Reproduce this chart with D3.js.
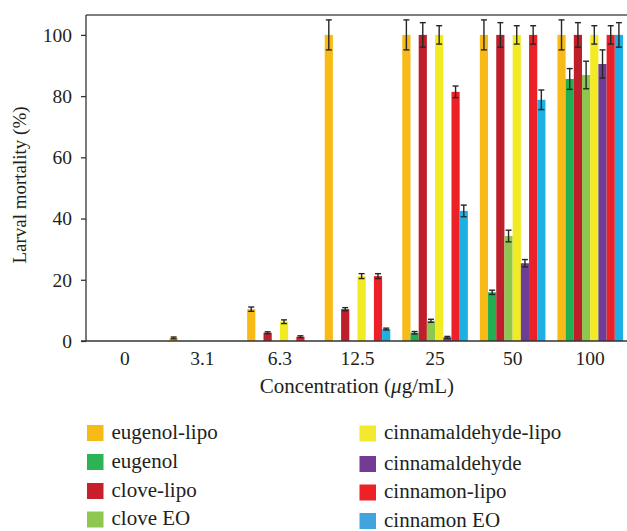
<!DOCTYPE html>
<html>
<head>
<meta charset="utf-8">
<script src="https://cdn.jsdelivr.net/npm/d3@7"></script>
<style>
  body { margin: 0; background: #fff; }
  svg { display: block; font-family: "Liberation Serif", "DejaVu Serif", serif; }
</style>
</head>
<body>
<svg id="chart" width="627" height="531"></svg>
<script>
// concentrations (ug/mL)
const concentrations = ["0", "3.1", "6.3", "12.5", "25", "50", "100"];
const seriesNames = ["eugenol-lipo", "eugenol", "clove-lipo", "clove EO",
  "cinnamaldehyde-lipo", "cinnamaldehyde", "cinnamon-lipo", "cinnamon EO"];
const seriesColors = ["#F8BA16", "#22AE52", "#BE1F2A", "#8DC750",
  "#F2EA22", "#6D3E96", "#EC2027", "#1EB0E3"];
const legendColors = ["#F8BA16", "#2AB453", "#C8202B", "#8FC850",
  "#F2EA2E", "#753A96", "#EC2227", "#40A5DD"];

// larval mortality (%) per series, one value per concentration
const eugenolLipo        = [0, 1.0, 10.4, 100, 100, 100, 100];
const eugenol            = [0, 0, 0, 0, 2.7, 15.9, 85.6];
const cloveLipo          = [0, 0, 2.7, 10.4, 100, 100, 100];
const cloveEO            = [0, 0, 0, 0, 6.6, 34.3, 86.9];
const cinnamaldehydeLipo = [0, 0, 6.3, 21.2, 100, 100, 100];
const cinnamaldehyde     = [0, 0, 0, 0, 1.2, 25.4, 90.5];
const cinnamonLipo       = [0, 0, 1.4, 21.2, 81.4, 100, 100];
const cinnamonEO         = [0, 0, 0, 3.9, 42.5, 78.8, 100];

// error (+/-)
const eugenolLipoErr        = [0, 0.3, 0.7, 4.9, 4.9, 4.9, 4.9];
const eugenolErr            = [0, 0, 0, 0, 0.4, 0.7, 3.4];
const cloveLipoErr          = [0, 0, 0.3, 0.5, 4.0, 4.0, 4.0];
const cloveEOErr            = [0, 0, 0, 0, 0.5, 1.9, 4.5];
const cinnamaldehydeLipoErr = [0, 0, 0.6, 0.8, 3.0, 3.0, 3.0];
const cinnamaldehydeErr     = [0, 0, 0, 0, 0.3, 1.2, 4.6];
const cinnamonLipoErr       = [0, 0, 0.3, 0.8, 1.9, 3.0, 3.0];
const cinnamonEOErr         = [0, 0, 0, 0.3, 1.9, 3.2, 4.0];

const yTicks = [0, 20, 40, 60, 80, 100];

const values = [eugenolLipo, eugenol, cloveLipo, cloveEO,
  cinnamaldehydeLipo, cinnamaldehyde, cinnamonLipo, cinnamonEO];
const errors = [eugenolLipoErr, eugenolErr, cloveLipoErr, cloveEOErr,
  cinnamaldehydeLipoErr, cinnamaldehydeErr, cinnamonLipoErr, cinnamonEOErr];

const svg = d3.select("#chart");
const plotLeft = 86, plotRight = 629, plotTop = 15, plotBottom = 341;
const textColor = "#231f20";

const x0 = d3.scaleBand().domain(concentrations).range([plotLeft, plotRight]).padding(0);
const x1 = d3.scaleBand().domain(seriesNames).range([0, x0.bandwidth()])
  .paddingInner(0).paddingOuter(0.73);
const y = d3.scaleLinear().domain([0, 106.5]).range([plotBottom, plotTop]);

// one row per bar
const rows = [];
concentrations.forEach((c, i) => {
  seriesNames.forEach((s, j) => {
    rows.push({c, s, j, v: values[j][i], e: errors[j][i]});
  });
});
const shown = rows.filter(d => d.v > 0);

svg.append("g")
  .selectAll("rect")
  .data(shown)
  .join("rect")
    .attr("x", d => x0(d.c) + x1(d.s))
    .attr("y", d => y(d.v))
    .attr("width", x1.bandwidth())
    .attr("height", d => y(0) - y(d.v))
    .attr("fill", d => seriesColors[d.j]);

// error bars
const eb = svg.append("g")
  .attr("stroke", "#262626")
  .attr("stroke-width", 1.4)
  .selectAll("g")
  .data(shown)
  .join("g")
    .attr("transform", d => `translate(${x0(d.c) + x1(d.s) + x1.bandwidth() / 2},0)`);
eb.append("line")
  .attr("y1", d => y(d.v + d.e)).attr("y2", d => y(d.v - d.e));
eb.append("line")
  .attr("x1", -3).attr("x2", 3)
  .attr("y1", d => y(d.v + d.e)).attr("y2", d => y(d.v + d.e));
eb.append("line")
  .attr("x1", -3).attr("x2", 3)
  .attr("y1", d => y(d.v - d.e)).attr("y2", d => y(d.v - d.e));

// top border
svg.append("line")
  .attr("x1", plotLeft).attr("x2", plotRight)
  .attr("y1", plotTop).attr("y2", plotTop)
  .attr("stroke", "#555").attr("stroke-width", 1.5);

// y axis
const yAxis = svg.append("g")
  .attr("transform", `translate(${plotLeft},0)`)
  .call(d3.axisLeft(y).tickValues(yTicks).tickSize(5).tickPadding(9));
yAxis.select(".domain").attr("d", `M0,${plotTop}V${plotBottom}`)
  .attr("stroke", "#333").attr("stroke-width", 1.3);
yAxis.selectAll(".tick line").attr("stroke", "#333").attr("stroke-width", 1.3);
yAxis.selectAll("text").attr("font-size", 19.5).attr("fill", textColor)
  .attr("font-family", "Liberation Serif");

// x axis
const xAxis = svg.append("g")
  .attr("transform", `translate(0,${plotBottom})`)
  .call(d3.axisBottom(x0).tickSize(0).tickPadding(10));
xAxis.select(".domain").attr("d", `M${plotLeft - 5},0H${plotRight}`)
  .attr("stroke", "#333").attr("stroke-width", 1.3);
xAxis.selectAll("text").attr("font-size", 19.5).attr("fill", textColor)
  .attr("font-family", "Liberation Serif");

// axis titles
svg.append("text")
  .attr("transform", "translate(26,185) rotate(-90)")
  .attr("text-anchor", "middle")
  .attr("font-size", 19).attr("fill", textColor)
  .text("Larval mortality (%)");

const xt = svg.append("text")
  .attr("x", 357).attr("y", 393)
  .attr("text-anchor", "middle")
  .attr("font-size", 21).attr("fill", textColor);
xt.append("tspan").text("Concentration (");
xt.append("tspan").attr("font-style", "italic").text("μ");
xt.append("tspan").text("g/mL)");

// legend, two columns
const legendLeftRows = [425, 454, 483, 511.5];
const legendRightRows = [425.5, 456, 484.5, 513];
const legend = svg.append("g")
  .selectAll("g")
  .data(seriesNames)
  .join("g")
    .attr("transform", (d, i) => i < 4
      ? `translate(87,${legendLeftRows[i]})`
      : `translate(359.5,${legendRightRows[i - 4]})`);
legend.append("rect")
  .attr("width", 16.5).attr("height", 16)
  .attr("fill", (d, i) => legendColors[i]);
legend.append("text")
  .attr("x", 24.5).attr("y", 13.5)
  .attr("font-size", 21).attr("fill", textColor)
  .text(d => d);
</script>
</body>
</html>
